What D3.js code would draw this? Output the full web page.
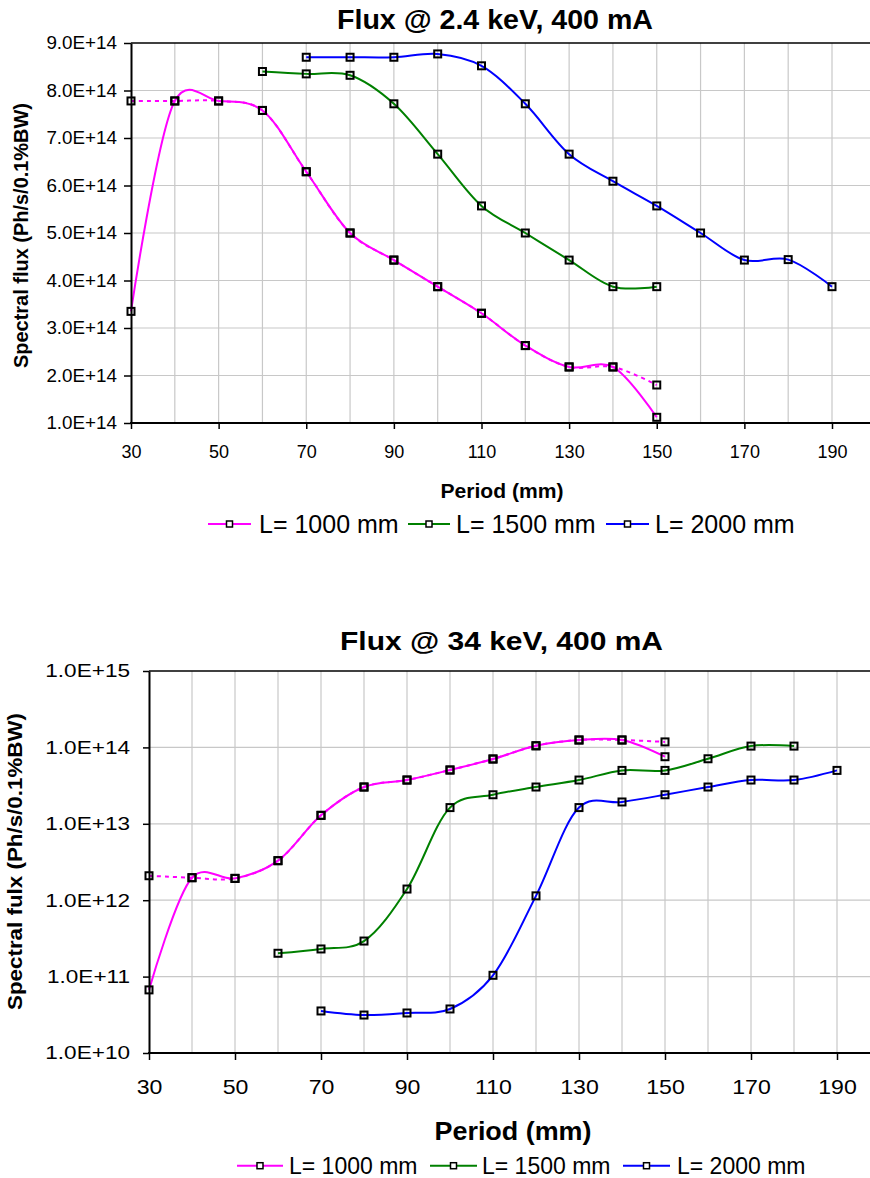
<!DOCTYPE html>
<html>
<head>
<meta charset="utf-8">
<script src="https://cdn.jsdelivr.net/npm/d3@7"></script>
<style>
  body { margin: 0; background: #fff; }
  svg { display: block; font-family: "Liberation Sans", Arial, sans-serif; }
</style>
</head>
<body>
<svg id="chart" width="870" height="1178"></svg>
<script>
// periods (mm) for each undulator length
var period_L1000 = [30, 40, 50, 60, 70, 80, 90, 100, 110, 120, 130, 140, 150];
var period_L1500_top = [60, 70, 80, 90, 100, 110, 120, 130, 140, 150];
var period_L1500_bot = [60, 70, 80, 90, 100, 110, 120, 130, 140, 150, 160, 170, 180];
var period_L2000 = [70, 80, 90, 100, 110, 120, 130, 140, 150, 160, 170, 180, 190];

// flux @ 2.4 keV (Ph/s/0.1%BW)
var flux24_L1000 = [3.35e14, 7.78e14, 7.78e14, 7.58e14, 6.29e14, 5.0e14, 4.43e14, 3.87e14, 3.31e14, 2.63e14, 2.18e14, 2.18e14, 1.12e14];
var flux24_L1000_dot = [7.78e14, 7.78e14, 7.78e14, 7.58e14, 6.29e14, 5.0e14, 4.43e14, 3.87e14, 3.31e14, 2.63e14, 2.18e14, 2.18e14, 1.8e14];
var flux24_L1500 = [8.40e14, 8.35e14, 8.32e14, 7.72e14, 6.66e14, 5.57e14, 5.0e14, 4.43e14, 3.87e14, 3.87e14];
var flux24_L2000 = [8.70e14, 8.70e14, 8.70e14, 8.77e14, 8.52e14, 7.72e14, 6.66e14, 6.09e14, 5.57e14, 5.0e14, 4.43e14, 4.44e14, 3.87e14];

// flux @ 34 keV
var flux34_L1000 = [6.7e10, 1.97e12, 1.93e12, 3.29e12, 1.29e13, 3.03e13, 3.74e13, 5.06e13, 7.05e13, 1.05e14, 1.25e14, 1.25e14, 7.55e13];
var flux34_L1000_dot = [2.09e12, 1.97e12, 1.93e12, 3.29e12, 1.29e13, 3.03e13, 3.74e13, 5.06e13, 7.05e13, 1.05e14, 1.25e14, 1.25e14, 1.18e14];
var flux34_L1500 = [2.02e11, 2.3e11, 2.92e11, 1.4e12, 1.63e13, 2.4e13, 3.03e13, 3.74e13, 5.0e13, 5.0e13, 7.1e13, 1.04e14, 1.04e14];
var flux34_L2000 = [3.55e10, 3.14e10, 3.34e10, 3.77e10, 1.04e11, 1.14e12, 1.63e13, 1.93e13, 2.4e13, 3.03e13, 3.74e13, 3.74e13, 5.0e13];

var seriesNames = ["L= 1000 mm", "L= 1500 mm", "L= 2000 mm"];
var seriesColors = ["#ff00ff", "#008000", "#0000ff"];
var xTickValues = [30, 50, 70, 90, 110, 130, 150, 170, 190];
var yTicksLinear = [1e14, 2e14, 3e14, 4e14, 5e14, 6e14, 7e14, 8e14, 9e14];
var yTicksLog = [1e10, 1e11, 1e12, 1e13, 1e14, 1e15];

var svg = d3.select("#chart");

function zip(xs, ys) {
    return xs.map(function(x, i) { return { x: x, y: ys[i] }; });
}

function sci(v) {
    var e = Math.floor(Math.log10(v) + 1e-9);
    return (v / Math.pow(10, e)).toFixed(1) + "E+" + e;
}

// widen text like the stretched excel picture
function stretch(sel, k) {
    sel.each(function() {
        var w = this.getComputedTextLength();
        d3.select(this).attr("textLength", w * k).attr("lengthAdjust", "spacingAndGlyphs");
    });
}

function drawChart(c) {
    var g = svg.append("g");
    var x = c.x, y = c.y;
    var top = y.range()[1], bottom = y.range()[0], left = x.range()[0];

    // grid
    var vGrid = d3.range(40, 200, 10);
    g.append("g").selectAll("line").data(vGrid).enter().append("line")
        .attr("x1", function(d) { return x(d); }).attr("x2", function(d) { return x(d); })
        .attr("y1", top).attr("y2", bottom)
        .style("stroke", "#c8c8c8").style("stroke-width", 1.2);
    g.append("g").selectAll("line").data(c.yTicks.slice(1, -1)).enter().append("line")
        .attr("x1", left).attr("x2", 870)
        .attr("y1", function(d) { return y(d); }).attr("y2", function(d) { return y(d); })
        .style("stroke", "#c8c8c8").style("stroke-width", 1.2);

    // plot border top
    g.append("line").attr("x1", left).attr("x2", 870).attr("y1", top).attr("y2", top)
        .style("stroke", "#000").style("stroke-width", 1.6);

    var line = d3.line()
        .x(function(d) { return x(d.x); })
        .y(function(d) { return y(d.y); })
        .curve(d3.curveCatmullRom.alpha(0.15));

    // dotted companion series
    g.append("path").datum(c.dotted.data)
        .attr("d", line)
        .style("fill", "none").style("stroke", c.dotted.color)
        .style("stroke-width", 2).style("stroke-dasharray", "4,4");

    c.series.forEach(function(s) {
        g.append("path").datum(s.data)
            .attr("d", line)
            .style("fill", "none").style("stroke", s.color).style("stroke-width", 2);
    });

    // markers
    var all = c.series.map(function(s) { return s.data; }).concat([c.dotted.data]);
    all.forEach(function(pts) {
        g.append("g").selectAll("rect").data(pts).enter().append("rect")
            .attr("x", function(d) { return x(d.x) - 3.5; })
            .attr("y", function(d) { return y(d.y) - 3.5; })
            .attr("width", 7).attr("height", 7)
            .style("fill", "none").style("stroke", "#000").style("stroke-width", 2);
    });

    // axes
    var ya = g.append("g").attr("transform", "translate(" + left + ",0)")
        .call(d3.axisLeft(y).tickValues(c.yTicks).tickFormat(c.yFormat)
            .tickSize(c.yTickSize).tickPadding(c.yTickPad).tickSizeOuter(0));
    ya.select(".domain").style("stroke-width", 2);
    ya.selectAll("line").style("stroke-width", 1.5);
    ya.selectAll("text").style("font-size", c.yFont + "px").style("font-family", "Liberation Sans, Arial")
        .style("fill", "#000").call(stretch, c.yStretch);

    var xa = g.append("g").attr("transform", "translate(0," + bottom + ")")
        .call(d3.axisBottom(x).tickValues(xTickValues)
            .tickSize(c.xTickSize).tickPadding(c.xTickPad).tickSizeOuter(0));
    xa.select(".domain").remove();
    xa.selectAll("line").style("stroke-width", 1.5);
    xa.selectAll("text").style("font-size", c.xFont + "px").style("font-family", "Liberation Sans, Arial")
        .style("fill", "#000").call(stretch, c.xStretch);
    g.append("line").attr("x1", left - 1).attr("x2", 870).attr("y1", bottom).attr("y2", bottom)
        .style("stroke", "#000").style("stroke-width", 2);

    // titles
    g.append("text").text(c.title)
        .attr("x", c.titlePos[0]).attr("y", c.titlePos[1])
        .attr("text-anchor", "middle").style("font-weight", "bold").style("font-size", c.titleFont + "px")
        .attr("textLength", c.titleLen).attr("lengthAdjust", "spacingAndGlyphs");

    g.append("text").text("Period (mm)")
        .attr("x", c.xTitlePos[0]).attr("y", c.xTitlePos[1])
        .attr("text-anchor", "middle").style("font-weight", "bold").style("font-size", c.xTitleFont + "px")
        .attr("textLength", c.xTitleLen).attr("lengthAdjust", "spacingAndGlyphs");

    g.append("text").text(c.yTitle)
        .attr("transform", "translate(" + c.yTitlePos[0] + "," + c.yTitlePos[1] + ") rotate(-90)")
        .attr("text-anchor", "middle").style("font-weight", "bold").style("font-size", c.yTitleFont + "px")
        .attr("textLength", c.yTitleLen).attr("lengthAdjust", "spacingAndGlyphs");

    // legend
    var lg = g.append("g");
    c.legend.forEach(function(p, i) {
        var ly = c.legendY - c.legendFont * 0.36;
        lg.append("line").attr("x1", p[0]).attr("x2", p[1]).attr("y1", ly).attr("y2", ly)
            .style("stroke", seriesColors[i]).style("stroke-width", 2);
        lg.append("rect").attr("x", (p[0] + p[1]) / 2 - 3).attr("y", ly - 3)
            .attr("width", 6).attr("height", 6)
            .style("fill", "#fff").style("stroke", "#000").style("stroke-width", 1.5);
        lg.append("text").text(seriesNames[i])
            .attr("x", p[2]).attr("y", c.legendY)
            .style("font-size", c.legendFont + "px");
    });
}

// Flux @ 2.4 keV
drawChart({
    x: d3.scaleLinear().domain([30, 190]).range([131, 832]),
    y: d3.scaleLinear().domain([1e14, 9e14]).range([423, 43]),
    yTicks: yTicksLinear,
    yFormat: sci,
    yTickSize: 7, yTickPad: 7, yFont: 18, yStretch: 1.045,
    xTickSize: 6, xTickPad: 16, xFont: 18, xStretch: 1.0,
    series: [
        { data: zip(period_L1000, flux24_L1000), color: seriesColors[0] },
        { data: zip(period_L1500_top, flux24_L1500), color: seriesColors[1] },
        { data: zip(period_L2000, flux24_L2000), color: seriesColors[2] }
    ],
    dotted: { data: zip(period_L1000, flux24_L1000_dot), color: seriesColors[0] },
    title: "Flux @ 2.4 keV, 400 mA", titlePos: [495, 29], titleFont: 27, titleLen: 316,
    xTitlePos: [502, 498], xTitleFont: 21, xTitleLen: 123,
    yTitle: "Spectral flux (Ph/s/0.1%BW)", yTitlePos: [28, 235.5], yTitleFont: 20, yTitleLen: 265,
    legend: [[208, 251, 259], [408, 450, 456], [606, 649, 655]],
    legendY: 533, legendFont: 25
});

// Flux @ 34 keV
drawChart({
    x: d3.scaleLinear().domain([30, 190]).range([149, 837]),
    y: d3.scaleLog().domain([1e10, 1e15]).range([1053, 671]),
    yTicks: yTicksLog,
    yFormat: sci,
    yTickSize: 6, yTickPad: 13, yFont: 18.5, yStretch: 1.22,
    xTickSize: 7, xTickPad: 19, xFont: 21, xStretch: 1.1,
    series: [
        { data: zip(period_L1000, flux34_L1000), color: seriesColors[0] },
        { data: zip(period_L1500_bot, flux34_L1500), color: seriesColors[1] },
        { data: zip(period_L2000, flux34_L2000), color: seriesColors[2] }
    ],
    dotted: { data: zip(period_L1000, flux34_L1000_dot), color: seriesColors[0] },
    title: "Flux @ 34 keV, 400 mA", titlePos: [501.5, 650], titleFont: 25, titleLen: 323,
    xTitlePos: [513, 1140], xTitleFont: 26, xTitleLen: 157,
    yTitle: "Spectral fulx (Ph/s/0.1%BW)", yTitlePos: [21.5, 861.5], yTitleFont: 20, yTitleLen: 297,
    legend: [[237, 283, 289], [430, 477, 482], [623, 670, 677]],
    legendY: 1174, legendFont: 23
});
</script>
</body>
</html>
